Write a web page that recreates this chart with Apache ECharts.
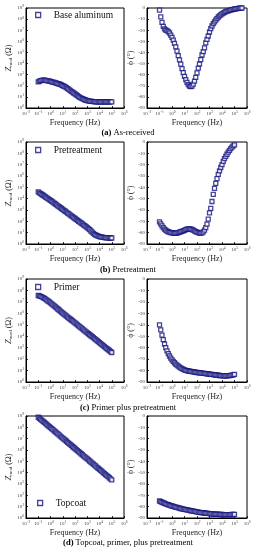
<!DOCTYPE html>
<html><head><meta charset="utf-8">
<script src="https://cdn.jsdelivr.net/npm/echarts@6/dist/echarts.min.js"></script>
<style>html,body{margin:0;padding:0;background:#fff}#c{width:256px;height:550px}</style>
</head><body><div id="c"></div>
<script>
// Frequencies (Hz), 10 points per decade, 0.1 Hz .. 100 kHz
const freq = [0.1,0.126,0.158,0.2,0.251,0.316,0.398,0.501,0.631,0.794,
  1,1.26,1.58,2,2.51,3.16,3.98,5.01,6.31,7.94,
  10,12.6,15.8,20,25.1,31.6,39.8,50.1,63.1,79.4,
  100,126,158,200,251,316,398,501,631,794,
  1000,1260,1580,2000,2510,3160,3980,5010,6310,7940,
  10000,12600,15800,20000,25100,31600,39800,50100,63100,79400,100000];
// extra high-frequency phase points visible for (a)
const freqExtA = [126000,158000,200000,251000,316000,398000];
const phaseExtA = [-0.7,-0.5,-0.35,-0.2,-0.1,0];

// (a) As-received: |Z| (ohm) and phase (deg)
const zmodA = [224,263,288,309,316,316,309,295,282,263,
  245,229,214,200,186,170,158,145,132,117,
  105,91,79,68,56,47,39,32,27,22.4,
  18.6,15.5,12.9,10.7,9.1,7.9,6.9,6.2,5.5,5.0,
  4.7,4.4,4.2,4.0,3.9,3.8,3.7,3.67,3.63,3.59,
  3.55,3.55,3.54,3.54,3.53,3.53,3.52,3.52,3.52,3.51,3.51];
const phaseA = [-2,-8,-13,-16.5,-18.8,-19.8,-20.4,-21.2,-22.5,-24.5,
  -26.5,-29,-31.8,-35,-38.8,-42.8,-46.6,-50.5,-54.5,-58.2,
  -61.6,-64.5,-67,-69,-70.2,-70.7,-70.2,-68.6,-65.9,-62.4,
  -58.3,-54.1,-50.4,-46.4,-42.3,-39.2,-35.8,-31.4,-28.3,-25.2,
  -21.6,-18.6,-16.2,-14,-12.4,-10.9,-9.6,-8.1,-7,-6.1,
  -5.2,-4.6,-3.9,-3.3,-2.9,-2.5,-2.2,-1.9,-1.5,-1.2,-0.9];

// (b) Pretreatment
const zmodB = [39800,33100,28200,23400,20000,16600,14100,11700,10000,8320,
  7080,5890,4900,4070,3390,2820,2340,1950,1620,1350,
  1120,933,776,646,537,447,372,309,257,214,
  178,148,123,102,85,71,59,49,41,34,
  28.2,22.9,18.2,14.1,11,8.7,7.2,6.2,5.4,4.9,
  4.5,4.2,4.0,3.8,3.67,3.59,3.51,3.47,3.43,3.39,3.39];
const phaseB = [-70.5,-72.3,-74,-75.6,-76.8,-77.8,-78.6,-79.2,-79.6,-80,
  -80.2,-80.4,-80.5,-80.5,-80.3,-80,-79.6,-79.2,-78.8,-78.3,
  -77.9,-77.4,-77,-76.7,-76.6,-76.8,-77.2,-77.8,-78.5,-79.1,
  -79.6,-80,-80.3,-80.4,-80.1,-79.3,-77.8,-75.6,-72.5,-68,
  -62.5,-58.5,-52.5,-46.3,-41,-36.5,-32.4,-28.6,-25.5,-22.5,
  -19.9,-17.1,-14.6,-12.6,-10.8,-9,-7.4,-5.8,-4.6,-3.5,-2.5];

// (c) Primer plus pretreatment
const zmodC = [3.63e7,3.39e7,3.09e7,2.75e7,2.40e7,2.04e7,1.74e7,1.45e7,1.20e7,1.0e7,
  8.32e6,6.76e6,5.50e6,4.47e6,3.63e6,2.95e6,2.40e6,1.95e6,1.58e6,1.29e6,
  1.05e6,8.59e5,7.05e5,5.78e5,4.74e5,3.89e5,3.19e5,2.62e5,2.15e5,1.76e5,
  1.45e5,1.19e5,9.73e4,7.98e4,6.55e4,5.37e4,4.41e4,3.61e4,2.96e4,2.43e4,
  2.0e4,1.64e4,1.34e4,1.10e4,9.04e3,7.41e3,6.08e3,4.99e3,4.09e3,3.36e3,
  2.75e3,2.26e3,1.85e3,1.52e3,1.25e3,1.02e3,839,689,565,463,380];
const phaseC = [-40,-44.5,-49,-53,-56.8,-60,-62.8,-65.2,-67.3,-69.1,
  -70.6,-72,-73.2,-74.3,-75.3,-76.2,-77,-77.7,-78.3,-78.9,
  -79.4,-79.8,-80.1,-80.4,-80.6,-80.8,-81,-81.2,-81.4,-81.5,
  -81.7,-81.8,-82,-82.1,-82.3,-82.4,-82.5,-82.7,-82.8,-83,
  -83.1,-83.3,-83.4,-83.6,-83.7,-83.9,-84,-84.1,-84.3,-84.4,
  -84.5,-84.6,-84.6,-84.7,-84.6,-84.5,-84.4,-84.2,-84,-83.7,-83.3];

// (d) Topcoat, primer, plus pretreatment
const zmodD = [7.76e8,6.31e8,5.13e8,4.07e8,3.31e8,2.69e8,2.19e8,1.78e8,1.41e8,1.15e8,
  9.33e7,7.59e7,6.17e7,4.90e7,3.98e7,3.24e7,2.63e7,2.14e7,1.70e7,1.38e7,
  1.12e7,9.12e6,7.41e6,5.89e6,4.79e6,3.89e6,3.16e6,2.57e6,2.04e6,1.66e6,
  1.35e6,1.10e6,8.91e5,7.08e5,5.75e5,4.68e5,3.80e5,3.09e5,2.45e5,2.00e5,
  1.62e5,1.32e5,1.07e5,8.51e4,6.92e4,5.62e4,4.57e4,3.72e4,2.95e4,2.40e4,
  1.95e4,1.58e4,1.29e4,1.02e4,8.32e3,6.76e3,5.50e3,4.47e3,3.55e3,2.88e3,2.34e3];
const phaseD = [-75,-75.6,-76.1,-76.6,-77,-77.5,-77.9,-78.3,-78.7,-79.1,
  -79.4,-79.8,-80.1,-80.4,-80.7,-81,-81.3,-81.6,-81.9,-82.1,
  -82.4,-82.6,-82.9,-83.1,-83.3,-83.6,-83.8,-84,-84.2,-84.4,
  -84.6,-84.8,-85,-85.2,-85.3,-85.5,-85.6,-85.8,-85.9,-86,
  -86.2,-86.3,-86.4,-86.5,-86.6,-86.7,-86.7,-86.8,-86.8,-86.9,
  -86.9,-87,-87,-87,-87,-87,-87,-87,-86.9,-86.9,-86.8];

const legendNames = ['Base aluminum','Pretreatment','Primer','Topcoat'];
const captionLetters = ['(a)','(b)','(c)','(d)'];
const captionTexts = ['As-received','Pretreatment','Primer plus pretreatment','Topcoat, primer, plus pretreatment'];
const xAxisTitle = 'Frequency (Hz)';

const zData = [zmodA, zmodB, zmodC, zmodD];
const pData = [phaseA, phaseB, phaseC, phaseD];

// layout
const panelTops = [8, 142, 279, 416];
const panelHeights = [100, 102, 103, 102];
const legendPos = [[35, 10], [35, 145], [35, 282], [37, 498]];
const captionY = [133, 270, 408, 543];
const FONT = 'Liberation Serif';
const NAVY = '#15157e';
const TXT = '#222';

function expLabel(v) {
  const e = Math.round(Math.log10(v));
  return '{b|10}{s|' + (e < 0 ? '\u2212' + (-e) : e) + '}';
}
const tickRich = {
  b: {fontSize: 5, fontFamily: FONT, color: '#444', lineHeight: 7},
  s: {fontSize: 3.5, fontFamily: FONT, color: '#444', verticalAlign: 'top'}
};
const axisCommon = {
  axisLine: {show: true, onZero: false, lineStyle: {color: '#000', width: 1}},
  axisTick: {show: true, inside: true, length: 2, lineStyle: {color: '#000', width: 0.8}},
  splitLine: {show: false}
};

const grids = [], xAxes = [], yAxes = [], series = [], legends = [], graphics = [];
for (let i = 0; i < 4; i++) {
  const top = panelTops[i], h = panelHeights[i];
  grids.push({left: 26, top: top, width: 98, height: h, show: true, borderColor: '#000', borderWidth: 1});
  grids.push({left: 147, top: top, width: 100, height: h, show: true, borderColor: '#000', borderWidth: 1});
  for (let k = 0; k < 2; k++) {
    xAxes.push(Object.assign({}, axisCommon, {
      type: 'log', logBase: 10, min: 0.01, max: 1e6, splitNumber: 8, gridIndex: 2 * i + k,
      axisLabel: {formatter: expLabel, rich: tickRich, margin: 2},
      name: xAxisTitle, nameLocation: 'middle', nameGap: 11,
      nameTextStyle: {fontFamily: FONT, fontSize: 8, color: TXT}
    }));
  }
  yAxes.push(Object.assign({}, axisCommon, {
    type: 'log', logBase: 10, min: 1, max: 1e9, splitNumber: 9, gridIndex: 2 * i,
    axisLabel: {formatter: expLabel, rich: tickRich, margin: 2},
    name: '{i|Z}{sub|mod} (\u03A9)', nameLocation: 'middle', nameRotate: 90, nameGap: 11,
    nameTextStyle: {fontFamily: FONT, fontSize: 8, color: TXT,
      rich: {i: {fontFamily: FONT, fontSize: 8.5, fontStyle: 'italic', color: TXT},
             sub: {fontFamily: FONT, fontSize: 5, color: TXT, verticalAlign: 'bottom'}}}
  }));
  yAxes.push(Object.assign({}, axisCommon, {
    type: 'value', min: -90, max: 0, interval: 10, gridIndex: 2 * i + 1,
    axisLabel: {fontFamily: FONT, fontSize: 5, color: '#444', margin: 2},
    name: '\u03D5 (\u00B0)', nameLocation: 'middle', nameRotate: 90, nameGap: 12,
    nameTextStyle: {fontFamily: FONT, fontSize: 8, color: TXT}
  }));
  const mk = {symbol: 'rect', symbolSize: 4, itemStyle: {color: '#fff', borderColor: NAVY, borderWidth: 1.3}};
  series.push(Object.assign({}, mk, {
    type: 'scatter', name: legendNames[i], xAxisIndex: 2 * i, yAxisIndex: 2 * i,
    data: freq.map((f, j) => [f, zData[i][j]])
  }));
  let pts = freq.map((f, j) => [f, pData[i][j]]);
  if (i === 0) pts = pts.concat(freqExtA.map((f, j) => [f, phaseExtA[j]]));
  series.push(Object.assign({}, mk, {
    type: 'scatter', name: legendNames[i] + ' phase', xAxisIndex: 2 * i + 1, yAxisIndex: 2 * i + 1,
    data: pts
  }));
  legends.push({
    data: [legendNames[i]], left: legendPos[i][0], top: legendPos[i][1], padding: 0,
    icon: 'rect', itemWidth: 5, itemHeight: 5, selectedMode: false,
    itemStyle: {color: '#fff', borderColor: NAVY, borderWidth: 1.3},
    textStyle: {fontFamily: FONT, fontSize: 9.5, color: '#111', padding: [0, 0, 0, 8]}
  });
  graphics.push({
    type: 'text', x: 128, y: captionY[i],
    style: {
      text: '{b|' + captionLetters[i] + '} ' + captionTexts[i],
      fontFamily: FONT, fontSize: 8.5, fill: '#000', align: 'center', verticalAlign: 'middle',
      rich: {b: {fontFamily: FONT, fontSize: 8.5, fontWeight: 'bold', fill: '#000'}}
    }
  });
}

const chart = echarts.init(document.getElementById('c'), null, {renderer: 'canvas'});
chart.setOption({
  animation: false,
  backgroundColor: '#fff',
  grid: grids, xAxis: xAxes, yAxis: yAxes, series: series, legend: legends, graphic: graphics
});
</script></body></html>
